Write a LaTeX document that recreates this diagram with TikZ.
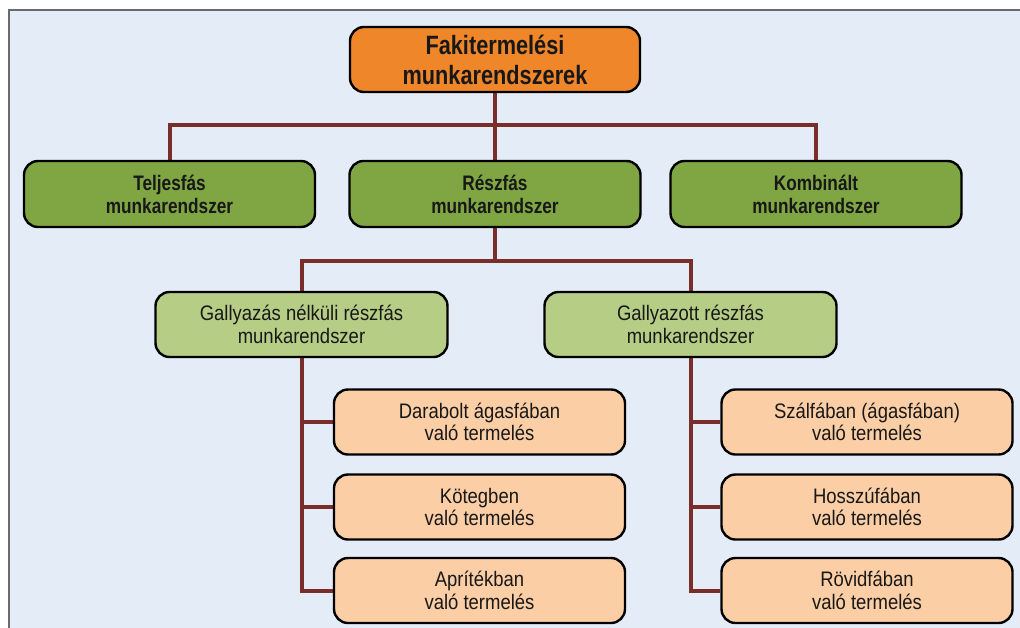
\documentclass[tikz,border=0pt]{standalone}
\usepackage{fontspec}
\usetikzlibrary{backgrounds}
\setmainfont{Liberation Sans}[FakeStretch=0.88]
\newfontfamily\narrowbold{Liberation Sans Bold}[FakeStretch=0.82]
\definecolor{panelbg}{HTML}{E4ECF7}
\definecolor{panelbd}{HTML}{6A6A6A}
\definecolor{orangefill}{HTML}{EF8629}
\definecolor{greenfill}{HTML}{7FA643}
\definecolor{lgreenfill}{HTML}{B6CD85}
\definecolor{peachfill}{HTML}{FBCEA5}
\definecolor{connred}{HTML}{7A2E2A}
\definecolor{txt}{HTML}{181818}
\tikzset{
  box/.style={draw=black, line width=2.4pt, rounded corners=14pt, align=center, text=txt, inner sep=0pt},
  topbox/.style={box, fill=orangefill, minimum width=290pt, minimum height=65pt, font=\narrowbold\fontsize{26.5}{30}\selectfont},
  lvlone/.style={box, fill=greenfill, minimum width=291pt, minimum height=66pt, font=\narrowbold\fontsize{21}{23}\selectfont},
  lvltwo/.style={box, fill=lgreenfill, minimum width=292pt, minimum height=65pt, font=\fontsize{21}{22.5}\selectfont},
  leaf/.style={box, fill=peachfill, minimum width=291pt, minimum height=65pt, font=\fontsize{21}{22.5}\selectfont},
  conn/.style={draw=connred, line width=4pt}
}
\begin{document}
\begin{tikzpicture}[x=1pt,y=-1pt]
\useasboundingbox (0,0) rectangle (1020,627);

\node[topbox] (top) at (495,59.5) {Fakitermelési\\munkarendszerek};
\node[lvlone] (g1) at (169.5,194) {Teljesfás\\munkarendszer};
\node[lvlone] (g2) at (495,194) {Részfás\\munkarendszer};
\node[lvlone] (g3) at (816,194) {Kombinált\\munkarendszer};
\node[lvltwo] (l1) at (301.5,324.5) {Gallyazás nélküli részfás\\munkarendszer};
\node[lvltwo] (l2) at (690.5,324.5) {Gallyazott részfás\\munkarendszer};
\node[leaf] (p1) at (479.5,422) {Darabolt ágasfában\\való termelés};
\node[leaf] (p2) at (479.5,507) {Kötegben\\való termelés};
\node[leaf] (p3) at (479.5,590.5) {Aprítékban\\való termelés};
\node[leaf] (q1) at (867,422) {Szálfában (ágasfában)\\való termelés};
\node[leaf] (q2) at (867,507) {Hosszúfában\\való termelés};
\node[leaf] (q3) at (867,590.5) {Rövidfában\\való termelés};

\begin{scope}[on background layer]
\fill[white] (0,0) rectangle (1020,627);
\draw[fill=panelbg, draw=panelbd, line width=1.6pt] (9,10) rectangle (1030,640);
\coordinate (j1) at (495,125);
\coordinate (j2) at (495,261);
\path[conn] (top.south) -- (j1) -| (g1.north);
\path[conn] (j1) -| (g3.north);
\path[conn] (j1) -- (g2.north);
\path[conn] (g2.south) -- (j2) -| (l1.north);
\path[conn] (j2) -| (l2.north);
\path[conn] (l1.south) |- (p1.west);
\path[conn] (l1.south) |- (p2.west);
\path[conn] (l1.south) |- (p3.west);
\path[conn] (l2.south) |- (q1.west);
\path[conn] (l2.south) |- (q2.west);
\path[conn] (l2.south) |- (q3.west);
\end{scope}
\end{tikzpicture}
\end{document}
